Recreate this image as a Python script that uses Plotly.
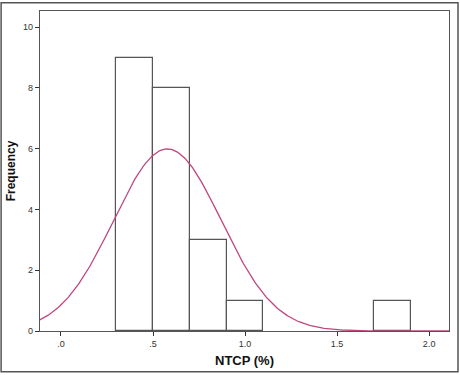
import numpy as np
import plotly.graph_objects as go

# Histogram data (NTCP %)
bin_starts = [0.3, 0.5, 0.7, 0.9, 1.7]
bin_width = 0.2
counts = [9, 8, 3, 1, 1]

# Normal curve fit parameters
fit_mean = 0.578
fit_sd = 0.293
n_total = sum(counts)

x_ticks = [0.0, 0.5, 1.0, 1.5, 2.0]
x_tick_labels = [".0", ".5", "1.0", "1.5", "2.0"]
y_ticks = [0, 2, 4, 6, 8, 10]

centers = [s + bin_width / 2 for s in bin_starts]

xs = np.linspace(-0.12, 2.12, 400)
ys = n_total * bin_width / (fit_sd * np.sqrt(2 * np.pi)) * np.exp(-0.5 * ((xs - fit_mean) / fit_sd) ** 2)

fig = go.Figure()
fig.add_trace(go.Bar(
    x=centers, y=counts, width=bin_width,
    marker=dict(color="white", line=dict(color="#555555", width=1.2)),
    showlegend=False, hoverinfo="skip",
))
fig.add_trace(go.Scatter(
    x=xs, y=ys, mode="lines",
    line=dict(color="#c0457d", width=1.3),
    showlegend=False, hoverinfo="skip",
))

fig.update_layout(
    width=460, height=375,
    margin=dict(l=40, r=10, t=10, b=43),
    paper_bgcolor="white", plot_bgcolor="white",
    font=dict(family="Liberation Sans, Arial, sans-serif", color="#222222"),
    bargap=0,
    xaxis=dict(
        range=[-0.114, 2.108],
        tickvals=x_ticks, ticktext=x_tick_labels,
        ticks="outside", ticklen=4, tickcolor="#333333",
        tickfont=dict(size=9, color="#333333"),
        showgrid=False, zeroline=False,
        showline=True, linecolor="#555555", linewidth=1.2, mirror=True,
        title=dict(text="<b>NTCP (%)</b>", font=dict(size=13, color="#111111"), standoff=7),
    ),
    yaxis=dict(
        range=[0, 10.53],
        tickvals=y_ticks,
        ticks="outside", ticklen=4, tickcolor="#333333",
        tickfont=dict(size=9, color="#333333"),
        showgrid=False, zeroline=False,
        showline=True, linecolor="#555555", linewidth=1.2, mirror=True,
        title=dict(text="<b>Frequency</b>", font=dict(size=12, color="#111111"), standoff=4),
    ),
    shapes=[dict(
        type="rect", xref="paper", yref="paper",
        x0=-0.0951, x1=1.0220, y0=-0.127, y1=1.026,
        line=dict(color="#555555", width=1.5), fillcolor="rgba(0,0,0,0)", layer="above",
    )],
)

fig.write_html(
    "out.html",
    config={"displayModeBar": False},
    post_script="document.body.style.margin='0';document.body.style.padding='0';",
)
